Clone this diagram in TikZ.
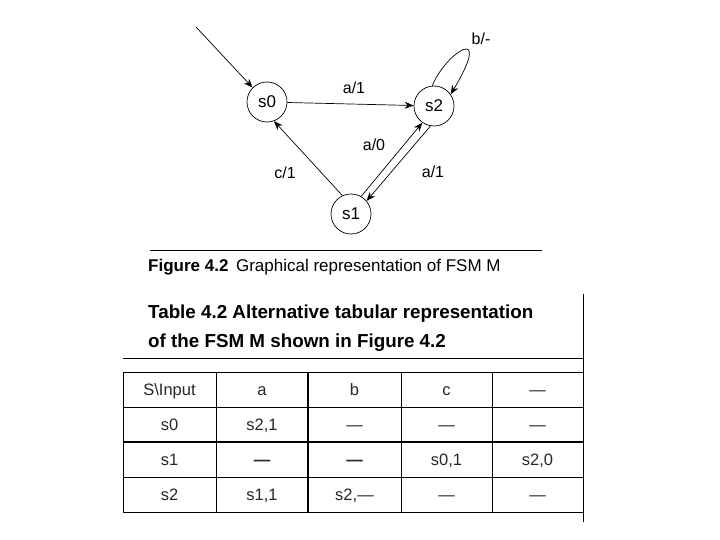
\documentclass[tikz,border=0pt]{standalone}
\usepackage{fontspec}
\setmainfont{Liberation Sans}
\usetikzlibrary{arrows.meta}
\begin{document}
\begin{tikzpicture}[x=1pt,y=-1pt,
  state/.style={circle,draw,line width=0.7pt,minimum size=40pt,inner sep=0pt,font=\fontsize{17}{17}\selectfont},
  edge/.style={draw,line width=0.7pt,-{Stealth[length=9pt,width=7pt]}},
  lbl/.style={font=\fontsize{16}{16}\selectfont,inner sep=0pt},
  cell/.style={font=\fontsize{16.5}{16.5}\selectfont,inner sep=0pt,anchor=base,text=black!85},
  rule/.style={line width=0.8pt}]
\useasboundingbox (0,0) rectangle (720,540);
% states
\node[state] (s0) at (267,102) {s0};
\node[state] (s2) at (434,106) {s2};
\node[state] (s1) at (351,214) {s1};
\coordinate (init) at (196,27);
\draw[edge] (init) -- (s0.north west);
\draw[edge] (s0) -- (s2);
\draw[edge] (s1.115) -- (s0.-70);
\draw[edge] (s1.60) -- (s2.-125);
\draw[edge] (s2.-100) -- (s1.40);
\draw[edge] (s2.95) .. controls (446,52) and (494,22) .. (s2.35);
% labels
\node[lbl] (l1) at (354,88) {a/1};
\node[lbl] (l2) at (481,39) {b/-};
\node[lbl] (l3) at (374,145) {a/0};
\node[lbl] (l4) at (285,173) {c/1};
\node[lbl] (l5) at (433,172) {a/1};
% caption
\coordinate (r1a) at (150,250);
\coordinate (r1b) at (542,250);
\draw[rule] (r1a) -- (r1b);
\node[anchor=base west,inner sep=0pt,font=\fontsize{17}{17}\selectfont] (cap) at (148,271) {\textbf{Figure 4.2}\, Graphical representation of FSM M};
% table title
\node[anchor=base west,inner sep=0pt,font=\fontsize{18.8}{18.8}\selectfont\bfseries] (t1) at (148,318) {Table 4.2 Alternative tabular representation};
\node[anchor=base west,inner sep=0pt,font=\fontsize{18.8}{18.8}\selectfont\bfseries] (t2) at (148,347) {of the FSM M shown in Figure 4.2};
\coordinate (va) at (583,294);
\coordinate (vb) at (583,522);
\draw[rule] (va) -- (vb);
\coordinate (ha) at (123,358);
\coordinate (hb) at (583,358);
\draw[rule] (ha) -- (hb);
% table grid
\draw[rule] (123,372) -- (583,372);
\draw[rule] (123,407) -- (583,407);
\draw[line width=1.3pt] (123,442) -- (583,442);
\draw[rule] (123,477) -- (583,477);
\draw[rule] (123,512) -- (583,512);
\draw[rule] (123,372) -- (123,512);
\draw[rule] (216,372) -- (216,512);
\draw[line width=1.3pt] (308,372) -- (308,512);
\draw[rule] (401,372) -- (401,512);
\draw[rule] (492,372) -- (492,512);
% cells
\node[cell] (c00) at (169.5,395.5) {S\textbackslash Input};
\node[cell] (c01) at (262,395.5) {a};
\node[cell] (c02) at (354.5,395.5) {b};
\node[cell] (c03) at (446.5,395.5) {c};
\node[cell] (c04) at (537.5,395.5) {—};
\node[cell] (c10) at (169.5,430.5) {s0};
\node[cell] (c11) at (262,430.5) {s2,1};
\node[cell] (c12) at (354.5,430.5) {—};
\node[cell] (c13) at (446.5,430.5) {—};
\node[cell] (c14) at (537.5,430.5) {—};
\node[cell] (c20) at (169.5,465.5) {s1};
\node[cell] (c21) at (262,465.5) {\textbf{—}};
\node[cell] (c22) at (354.5,465.5) {\textbf{—}};
\node[cell] (c23) at (446.5,465.5) {s0,1};
\node[cell] (c24) at (537.5,465.5) {s2,0};
\node[cell] (c30) at (169.5,500.5) {s2};
\node[cell] (c31) at (262,500.5) {s1,1};
\node[cell] (c32) at (354.5,500.5) {s2,—};
\node[cell] (c33) at (446.5,500.5) {—};
\node[cell] (c34) at (537.5,500.5) {—};
\end{tikzpicture}
\end{document}
